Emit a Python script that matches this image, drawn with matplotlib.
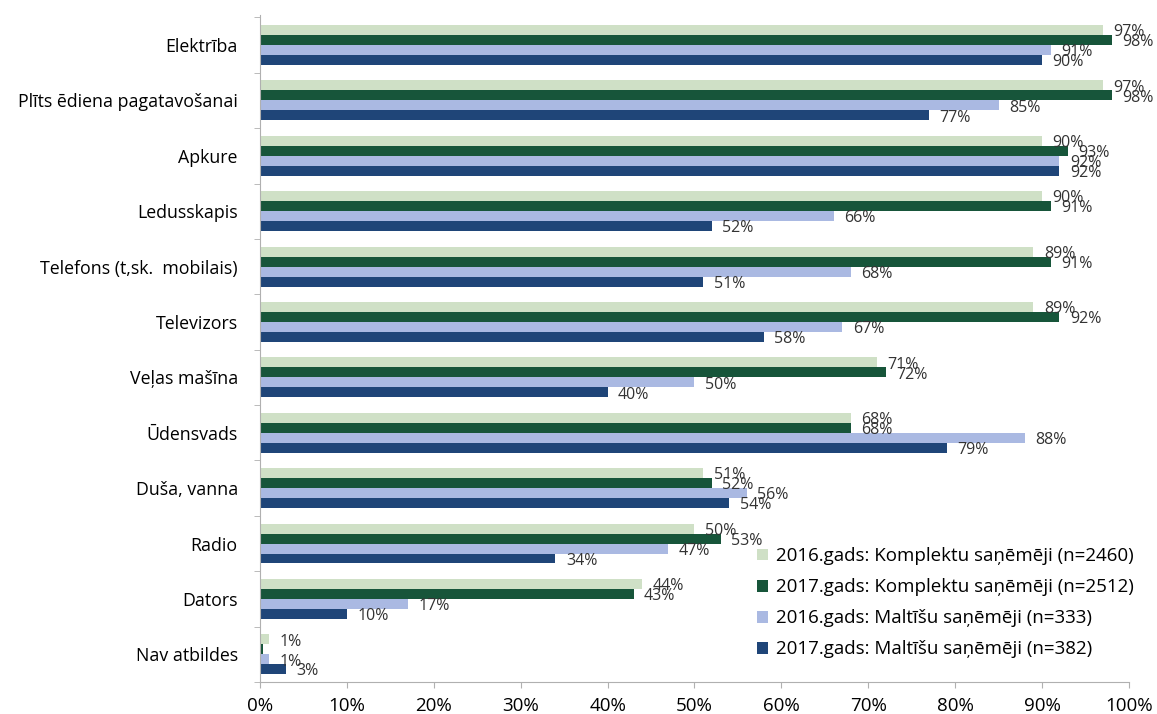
import numpy as np
import matplotlib.pyplot as plt

plt.rcParams['font.family'] = ['Open Sans', 'DejaVu Sans']

# Kategorijas un vērtības (%)
kategorijas = ["Elektrība", "Plīts ēdiena pagatavošanai", "Apkure", "Ledusskapis",
               "Telefons (t,sk.  mobilais)", "Televizors", "Veļas mašīna", "Ūdensvads",
               "Duša, vanna", "Radio", "Dators", "Nav atbildes"]

komplekti_2016 = [97, 97, 90, 90, 89, 89, 71, 68, 51, 50, 44, 1]
komplekti_2017 = [98, 98, 93, 91, 91, 92, 72, 68, 52, 53, 43, 0.3]
maltites_2016 = [91, 85, 92, 66, 68, 67, 50, 88, 56, 47, 17, 1]
maltites_2017 = [90, 77, 92, 52, 51, 58, 40, 79, 54, 34, 10, 3]

etiketes_2017k = ["98%", "98%", "93%", "91%", "91%", "92%", "72%", "68%", "52%", "53%", "43%", ""]

serijas = [
    ("2016.gads: Komplektu saņēmēji (n=2460)", komplekti_2016, "#cfe0c6", None),
    ("2017.gads: Komplektu saņēmēji (n=2512)", komplekti_2017, "#17553a", etiketes_2017k),
    ("2016.gads: Maltīšu saņēmēji (n=333)", maltites_2016, "#aab9e2", None),
    ("2017.gads: Maltīšu saņēmēji (n=382)", maltites_2017, "#1f4578", None),
]

fig = plt.figure(figsize=(11.57, 7.14), dpi=100)
ax = fig.add_axes([0.2247, 0.0448, 0.7511, 0.934])

y = np.arange(len(kategorijas))
h = 0.18
for i, (nosaukums, vertibas, krasa, etiketes) in enumerate(serijas):
    pos = y + (i - 1.5) * h
    ax.barh(pos, vertibas, height=h, color=krasa, label=nosaukums)
    for j, (p, v) in enumerate(zip(pos, vertibas)):
        txt = etiketes[j] if etiketes else f"{v:.0f}%"
        ax.text(v + 1.2, p + 0.04, txt, va="center", ha="left",
                fontsize=11.5, color="#333333")

ax.set_xlim(0, 100)
ax.set_ylim(11.45, -0.54)
ax.set_xticks(np.arange(0, 101, 10))
ax.set_xticklabels([f"{t}%" for t in range(0, 101, 10)], fontsize=13.5)
ax.set_yticks(y)
ax.set_yticklabels(kategorijas, fontsize=12.8)
ax.set_yticks(np.arange(-0.5, len(kategorijas), 1), minor=True)
ax.tick_params(axis="y", which="major", length=0, pad=16)
ax.tick_params(axis="y", which="minor", length=4, color="#b0b0b0")
ax.tick_params(axis="x", length=4, color="#b0b0b0", pad=7)

for s in ["top", "right"]:
    ax.spines[s].set_visible(False)
for s in ["left", "bottom"]:
    ax.spines[s].set_color("#b0b0b0")

ax.legend(loc="lower right", bbox_to_anchor=(1.025, 0.01), frameon=False,
          fontsize=13.5, handlelength=0.6, handleheight=0.6, labelspacing=0.7,
          handletextpad=0.4)

plt.savefig("out.png", dpi=100)
